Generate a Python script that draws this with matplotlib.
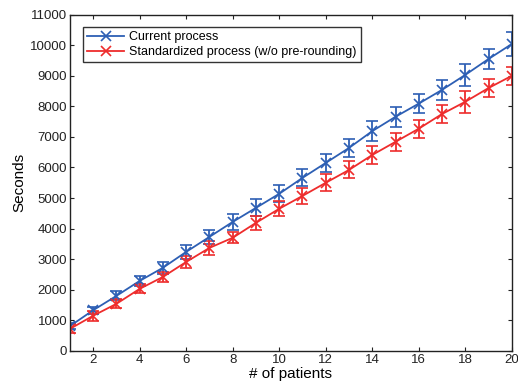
import matplotlib
matplotlib.use("Agg")
import matplotlib.pyplot as plt
from matplotlib.lines import Line2D

plt.rcParams['font.family'] = ['Liberation Sans', 'DejaVu Sans']

patients = list(range(1, 21))
current = [810, 1330, 1800, 2290, 2720, 3240, 3730, 4220, 4680, 5140,
           5660, 6150, 6640, 7190, 7660, 8090, 8540, 9030, 9550, 10040]
current_err = [100, 120, 150, 170, 200, 230, 220, 250, 280, 280,
               280, 300, 300, 320, 330, 320, 330, 360, 320, 390]
standard = [720, 1150, 1540, 2030, 2420, 2910, 3370, 3700, 4190, 4650,
            5070, 5500, 5920, 6410, 6840, 7270, 7750, 8150, 8600, 9000]
standard_err = [150, 170, 150, 150, 170, 200, 220, 180, 220, 250,
                250, 280, 280, 300, 300, 300, 300, 360, 300, 300]
labels = ['Current process', 'Standardized process (w/o pre-rounding)']

blue = '#2d5fb4'
red = '#ee2c2c'

fig = plt.figure(figsize=(5.18, 3.86), dpi=100)
ax = fig.add_axes([0.135, 0.091, 0.853, 0.871])

style = dict(marker='x', markersize=6.5, markeredgewidth=1.2, linewidth=1.3,
             capsize=4, elinewidth=1.3, capthick=1.3)
ax.errorbar(patients, current, yerr=current_err, color=blue, **style)
ax.errorbar(patients, standard, yerr=standard_err, color=red, **style)

ax.set_xlim(1, 20)
ax.set_ylim(0, 11000)
ax.set_xticks(range(2, 21, 2))
ax.set_yticks(range(0, 11001, 1000))
ax.tick_params(direction='in', top=True, right=True, labelsize=9.5,
               length=3, width=0.8, colors='#222222', pad=2)
for s in ax.spines.values():
    s.set_linewidth(1.0)
    s.set_color('#222222')
ax.set_xlabel('# of patients', fontsize=11, labelpad=1)
ax.set_ylabel('Seconds', fontsize=11, labelpad=3)

handles = [Line2D([], [], color=blue, marker='x', markersize=6.5,
                  markeredgewidth=1.2, linewidth=1.3),
           Line2D([], [], color=red, marker='x', markersize=6.5,
                  markeredgewidth=1.2, linewidth=1.3)]
leg = ax.legend(handles, labels, loc='upper left',
                bbox_to_anchor=(0.03, 0.962), fontsize=9,
                frameon=True, fancybox=False, edgecolor='black',
                borderpad=0.3, handlelength=3.0, labelspacing=0.25,
                borderaxespad=0.0, handletextpad=0.4)
leg.get_frame().set_linewidth(1.0)

fig.savefig('out.png', dpi=100)
